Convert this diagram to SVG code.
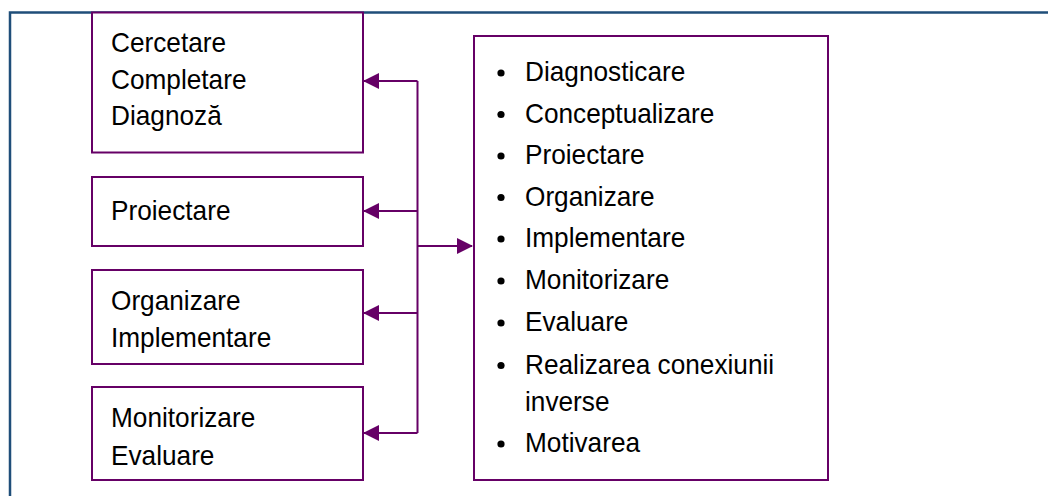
<svg xmlns="http://www.w3.org/2000/svg" width="1048" height="496" viewBox="0 0 1048 496">
  <style>
    .box { fill: #ffffff; stroke: #660066; stroke-width: 2; }
    .frame { fill: none; stroke: #1f4e79; stroke-width: 2.5; }
    .link { fill: none; stroke: #660066; stroke-width: 2; }
    .lbl { font-family: "Liberation Sans", Arial, sans-serif; font-size: 28.5px; fill: #000000; }
    .dot { fill: #000000; }
  </style>
  <defs>
    <marker id="arrow" viewBox="0 0 16 16" refX="15" refY="8" markerWidth="16" markerHeight="16" markerUnits="userSpaceOnUse" orient="auto">
      <path d="M0,0 L16,8 L0,16 Z" fill="#660066"/>
    </marker>
  </defs>

  <!-- outer frame: top and left rules -->
  <path class="frame" d="M10,496 V12.5 H1048"/>

  <!-- connectors from the hub line -->
  <g id="connectors">
    <path class="link" d="M417.5,81 V433"/>
    <path class="link" d="M417.5,81 H364" marker-end="url(#arrow)"/>
    <path class="link" d="M417.5,211 H364" marker-end="url(#arrow)"/>
    <path class="link" d="M417.5,313 H364" marker-end="url(#arrow)"/>
    <path class="link" d="M417.5,433 H364" marker-end="url(#arrow)"/>
    <path class="link" d="M417.5,246 H472" marker-end="url(#arrow)"/>
  </g>

  <!-- labels use a slightly condensed face: scale(0.92, 1) -->
  <g id="node-research">
    <rect class="box" x="92" y="12.5" width="271" height="140"/>
    <text class="lbl" transform="translate(111 52) scale(0.92 1)">Cercetare</text>
    <text class="lbl" transform="translate(111 89) scale(0.92 1)">Completare</text>
    <text class="lbl" transform="translate(111 124.5) scale(0.92 1)">Diagnoză</text>
  </g>

  <g id="node-design">
    <rect class="box" x="92" y="177" width="271" height="69"/>
    <text class="lbl" transform="translate(111 220) scale(0.92 1)">Proiectare</text>
  </g>

  <g id="node-organize">
    <rect class="box" x="92" y="270" width="271" height="94"/>
    <text class="lbl" transform="translate(111 310) scale(0.92 1)">Organizare</text>
    <text class="lbl" transform="translate(111 347) scale(0.92 1)">Implementare</text>
  </g>

  <g id="node-monitor">
    <rect class="box" x="92" y="387" width="271" height="93"/>
    <text class="lbl" transform="translate(111 427) scale(0.92 1)">Monitorizare</text>
    <text class="lbl" transform="translate(111 465) scale(0.92 1)">Evaluare</text>
  </g>

  <g id="node-functions">
    <rect class="box" x="474" y="36" width="354" height="444"/>
    <g class="dot">
      <circle cx="501" cy="73" r="3.6"/>
      <circle cx="501" cy="114.5" r="3.6"/>
      <circle cx="501" cy="156" r="3.6"/>
      <circle cx="501" cy="197.5" r="3.6"/>
      <circle cx="501" cy="239" r="3.6"/>
      <circle cx="501" cy="281" r="3.6"/>
      <circle cx="501" cy="323" r="3.6"/>
      <circle cx="501" cy="365.5" r="3.6"/>
      <circle cx="501" cy="444" r="3.6"/>
    </g>
    <text class="lbl" transform="translate(525 81) scale(0.92 1)">Diagnosticare</text>
    <text class="lbl" transform="translate(525 122.5) scale(0.92 1)">Conceptualizare</text>
    <text class="lbl" transform="translate(525 164) scale(0.92 1)">Proiectare</text>
    <text class="lbl" transform="translate(525 205.5) scale(0.92 1)">Organizare</text>
    <text class="lbl" transform="translate(525 247) scale(0.92 1)">Implementare</text>
    <text class="lbl" transform="translate(525 289) scale(0.92 1)">Monitorizare</text>
    <text class="lbl" transform="translate(525 331) scale(0.92 1)">Evaluare</text>
    <text class="lbl" transform="translate(525 373.5) scale(0.92 1)">Realizarea conexiunii</text>
    <text class="lbl" transform="translate(525 411) scale(0.92 1)">inverse</text>
    <text class="lbl" transform="translate(525 452) scale(0.92 1)">Motivarea</text>
  </g>
</svg>
